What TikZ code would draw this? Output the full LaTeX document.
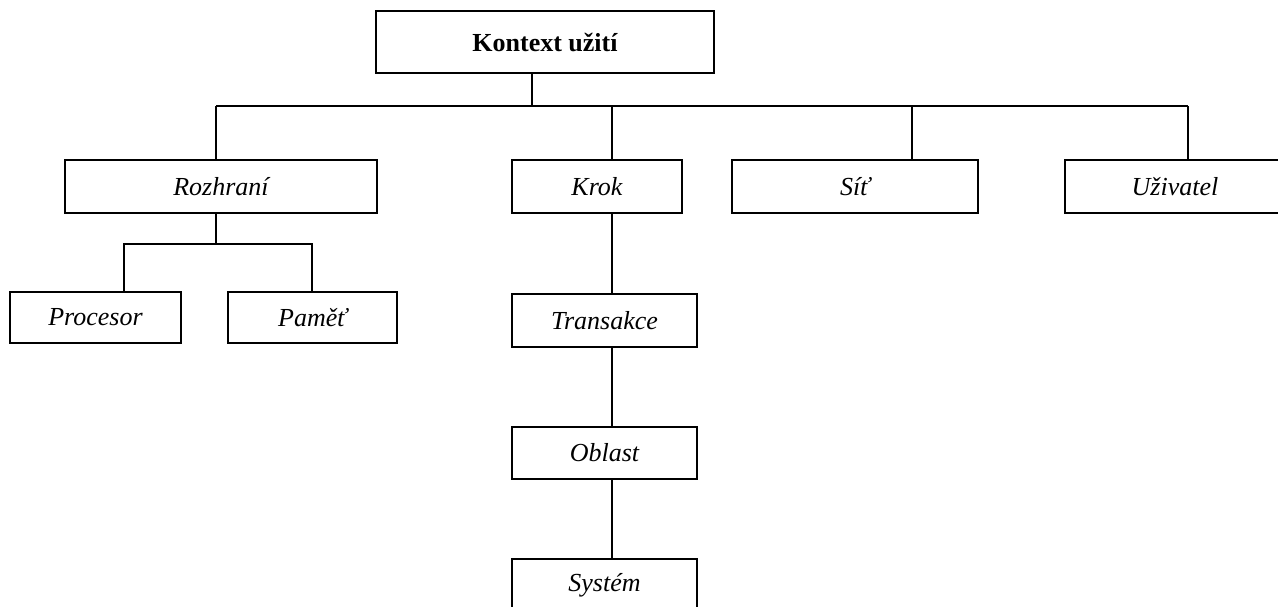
\documentclass[tikz,border=0pt]{standalone}
\usepackage{fontspec}
\setmainfont{Liberation Serif}
\begin{document}
\begin{tikzpicture}[x=1pt,y=-1pt,
  box/.style={draw, line width=2pt, rectangle, inner sep=0pt,
    font=\fontsize{26}{30}\selectfont\itshape},
  rootbox/.style={box, font=\fontsize{26}{30}\selectfont\bfseries},
  wire/.style={line width=2pt}]
\useasboundingbox (0,0) rectangle (1278,606);
\clip (0,0) rectangle (1278,606);

% root
\node[rootbox, minimum width=338pt, minimum height=62pt] (top) at (545,42) {Kontext užití};

% second level
\node[box, minimum width=312pt, minimum height=53pt] (roz)  at (221,186.5)  {Rozhraní};
\node[box, minimum width=170pt, minimum height=53pt] (krok) at (597,186.5)  {Krok};
\node[box, minimum width=246pt, minimum height=53pt] (sit)  at (855,186.5)  {Síť};
\node[box, minimum width=220pt, minimum height=53pt] (uziv) at (1175,186.5) {Uživatel};

% under Rozhraní
\node[box, minimum width=171pt, minimum height=51pt] (proc) at (95.5,317.5)  {Procesor};
\node[box, minimum width=169pt, minimum height=51pt] (pam)  at (312.5,317.5) {Paměť};

% chain under Krok
\node[box, minimum width=185pt, minimum height=53pt] (trans) at (604.5,320.5) {Transakce};
\node[box, minimum width=185pt, minimum height=52pt] (obl)   at (604.5,453)   {Oblast};
\node[box, minimum width=185pt, minimum height=52pt] (sys)   at (604.5,585)   {Systém};

% bus junctions
\coordinate (j0) at (532,106);
\coordinate (j1) at (216,106);
\coordinate (j2) at (612,106);
\coordinate (j3) at (912,106);
\coordinate (j4) at (1188,106);
\coordinate (r0) at (216,244);
\coordinate (r1) at (124,244);
\coordinate (r2) at (312,244);

\draw[wire] (top.south -| j0) -- (j0);
\draw[wire] (j1) -- (j4);
\draw[wire] (j1) -- (roz.north -| j1);
\draw[wire] (j2) -- (krok.north -| j2);
\draw[wire] (j3) -- (sit.north -| j3);
\draw[wire] (j4) -- (uziv.north -| j4);

\draw[wire] (roz.south -| r0) -- (r0);
\draw[wire] (proc.north -| r1) |- (r2) -- (pam.north -| r2);

\draw[wire] (krok.south -| j2) -- (trans.north -| j2);
\draw[wire] (trans.south -| j2) -- (obl.north -| j2);
\draw[wire] (obl.south -| j2) -- (sys.north -| j2);
\end{tikzpicture}
\end{document}
